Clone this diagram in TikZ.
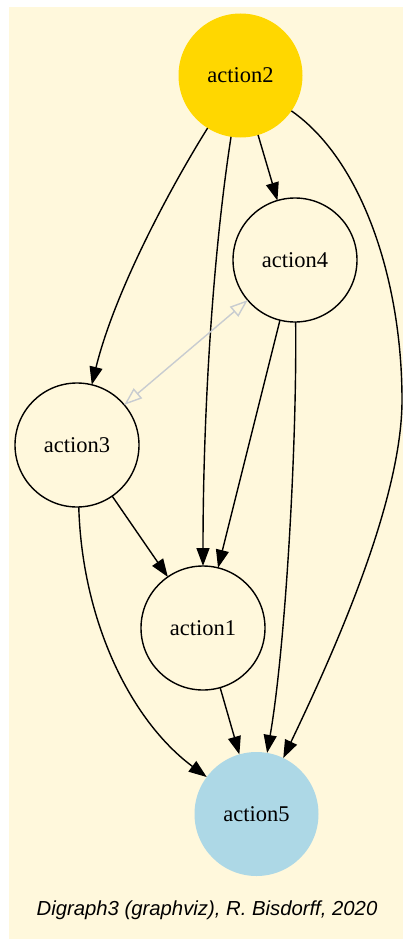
\documentclass[tikz,border=0pt]{standalone}
\usepackage{fontspec}
\setmainfont{Liberation Serif}
\setsansfont{Liberation Sans}
\usetikzlibrary{arrows.meta}
\definecolor{cornsilk}{HTML}{FFF8DC}
\definecolor{gold}{HTML}{FFD700}
\definecolor{lightblue}{HTML}{ADD8E6}
\definecolor{symgray}{HTML}{C8CCD0}

\begin{document}
\begin{tikzpicture}[x=1pt,y=-1pt,
  actnode/.style={circle, minimum size=124pt, inner sep=0pt, outer sep=0pt,
    font=\fontsize{22.5}{27}\selectfont, line width=1.4pt},
  plain/.style={actnode, draw=black, fill=cornsilk},
  edge/.style={line width=1.4pt, -{Triangle[length=18pt,width=13pt]}},
  symedge/.style={line width=1.4pt, draw=symgray,
    {Triangle[open,length=18pt,width=13pt]}-{Triangle[open,length=18pt,width=13pt]}},
  credit/.style={font=\sffamily\itshape\fontsize{20.3}{24}\selectfont, anchor=base}]

% canvas
\useasboundingbox (0,0) rectangle (403,939);
\fill[white] (0,0) rectangle (403,939);
\fill[cornsilk] (9,7) rectangle (403,939);

% actions
\node[actnode, fill=gold] (a2) at (240.5,75.5) {action2};
\node[plain] (a4) at (295,260) {action4};
\node[plain] (a3) at (77,445) {action3};
\node[plain] (a1) at (203,628) {action1};
\node[actnode, fill=lightblue] (a5) at (256.5,814) {action5};

\coordinate (rightbend) at (402,400);

% outranking relations
\draw[edge] (a2) -- (a4);
\draw[edge] (a2) .. controls (172,185) and (115,290) .. (a3);
\draw[edge] (a2) .. controls (212,260) and (203,420) .. (a1);
\draw[edge] (a2) .. controls (362,160) and (402,280) .. (rightbend)
                 .. controls (402,500) and (335,650) .. (a5);
\draw[edge] (a4) -- (a1);
\draw[edge] (a4) .. controls (297,450) and (285,650) .. (a5);
\draw[edge] (a3) -- (a1);
\draw[edge] (a3) .. controls (82,620) and (130,720) .. (a5);
\draw[edge] (a1) -- (a5);
\draw[symedge] (a3) -- (a4);

% credit line
\node[credit] (cred) at (207,915) {Digraph3 (graphviz), R. Bisdorff, 2020};
\end{tikzpicture}
\end{document}
